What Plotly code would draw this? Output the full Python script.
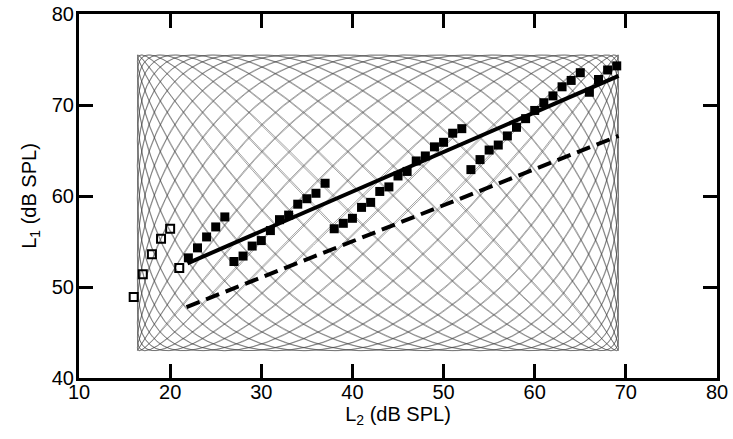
import numpy as np
import plotly.graph_objects as go

# Open squares (low-level points)
open_x = [16, 17, 18, 19, 20, 21]
open_y = [48.9, 51.4, 53.6, 55.3, 56.4, 52.1]

# Filled squares
filled_x = [22, 23, 24, 25, 26,
            27, 28, 29, 30, 31, 32, 33, 34, 35, 36, 37,
            38, 39, 40, 41, 42, 43, 44, 45, 46, 47, 48, 49, 50, 51, 52,
            53, 54, 55, 56, 57, 58, 59, 60, 61, 62, 63, 64, 65,
            66, 67, 68, 69]
filled_y = [53.2, 54.3, 55.5, 56.6, 57.7,
            52.8, 53.4, 54.5, 55.1, 56.2, 57.4, 57.9, 59.1, 59.7, 60.3, 61.4,
            56.4, 57.0, 57.55, 58.75, 59.3, 60.5, 61.0, 62.2, 62.7, 63.85, 64.4, 65.4, 65.9, 66.9, 67.4,
            62.9, 64.0, 65.05, 65.6, 66.6, 67.55, 68.5, 69.4, 70.25, 71.0, 72.0, 72.7, 73.55,
            71.4, 72.8, 73.85, 74.3]

# Fit lines (endpoints)
solid_x = [21.9, 69.2]
solid_y = [52.6, 73.2]
dashed_x = [21.8, 69.2]
dashed_y = [47.8, 66.6]

# Sweep pattern (Lissajous) parameters
sweep_x_range = [16.4, 69.2]
sweep_y_range = [43.0, 75.5]
sweep_freq_x = 31
sweep_freq_y = 50
sweep_phase = 0.35

x_ticks = [10, 20, 30, 40, 50, 60, 70, 80]
y_ticks = [40, 50, 60, 70, 80]

FONT = "Liberation Sans, Arial, sans-serif"

t = np.linspace(0, 2 * np.pi, 40000)
xc = (sweep_x_range[0] + sweep_x_range[1]) / 2
xa = (sweep_x_range[1] - sweep_x_range[0]) / 2
yc = (sweep_y_range[0] + sweep_y_range[1]) / 2
ya = (sweep_y_range[1] - sweep_y_range[0]) / 2
sx = xc + xa * np.sin(sweep_freq_x * t)
sy = yc + ya * np.sin(sweep_freq_y * t + sweep_phase)

fig = go.Figure()
fig.add_trace(go.Scatter(x=sx, y=sy, mode="lines",
                         line=dict(color="rgba(60,60,60,0.85)", width=0.55),
                         hoverinfo="skip", showlegend=False))
fig.add_trace(go.Scatter(x=dashed_x, y=dashed_y, mode="lines",
                         line=dict(color="black", width=4, dash="14px,7px"),
                         showlegend=False))
fig.add_trace(go.Scatter(x=solid_x, y=solid_y, mode="lines",
                         line=dict(color="black", width=4),
                         showlegend=False))
fig.add_trace(go.Scatter(x=open_x, y=open_y, mode="markers",
                         marker=dict(symbol="square-open", size=8, color="black",
                                     line=dict(width=2, color="black")),
                         showlegend=False))
fig.add_trace(go.Scatter(x=filled_x, y=filled_y, mode="markers",
                         marker=dict(symbol="square", size=9, color="black"),
                         showlegend=False))

axis_common = dict(showline=True, linewidth=3, linecolor="black", mirror="ticks",
                   ticks="inside", ticklen=14, tickwidth=3, tickcolor="black",
                   showgrid=False, zeroline=False, automargin=False,
                   tickfont=dict(family=FONT, size=20, color="black"))

fig.update_layout(
    width=733, height=439,
    margin=dict(l=79, r=16, t=14, b=61, autoexpand=False),
    paper_bgcolor="white", plot_bgcolor="white",
    xaxis=dict(range=[10, 80], tickvals=x_ticks, ticktext=[str(v) for v in x_ticks],
               ticklabelstandoff=-6,
               title=dict(text="L<sub>2</sub> (dB SPL)", standoff=0,
                          font=dict(family=FONT, size=20, color="black")),
               **axis_common),
    yaxis=dict(range=[40, 80], tickvals=y_ticks, ticktext=[str(v) for v in y_ticks],
               ticklabelstandoff=-2,
               title=dict(text="L<sub>1</sub> (dB SPL)", standoff=10,
                          font=dict(family=FONT, size=20, color="black")),
               **axis_common),
)

fig.write_html("out.html", config={"displayModeBar": False},
               post_script="document.body.style.margin='0px';")
